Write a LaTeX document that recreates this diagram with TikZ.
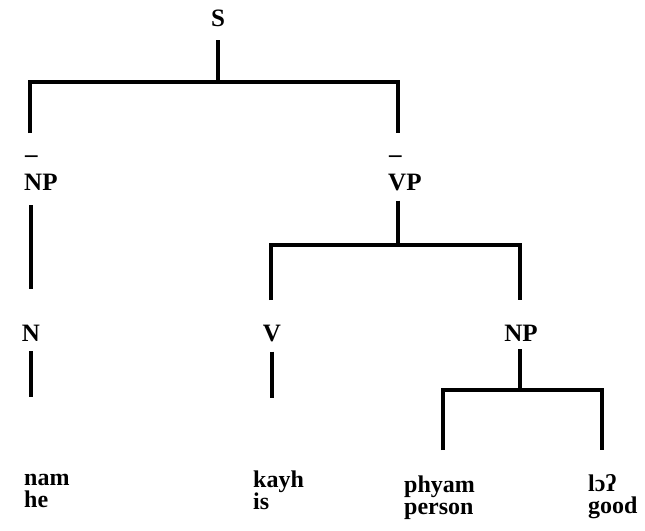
\documentclass[tikz,border=0pt]{standalone}
\usepackage{fontspec}
\setmainfont{Liberation Serif}
\usepackage{tikz}
\usetikzlibrary{positioning,calc}

% bar over the first letter of a phrase label
\newcommand{\xbar}{\rlap{\raisebox{1.1em}{\kern1pt–}}}

\begin{document}
\begin{tikzpicture}[x=1pt,y=-1pt,
    lab/.style={inner sep=0pt,anchor=base,font=\fontsize{25}{28}\selectfont\bfseries},
    word/.style={inner sep=0pt,anchor=base west,align=left,font=\fontsize{24}{22}\selectfont\bfseries},
    branch/.style={line width=3.2pt}]
\useasboundingbox (0,0) rectangle (645,530);

% tree labels
\node[lab] (s) at (218,27) {S};
\node[lab,anchor=base west] (np1) at (24,190) {\xbar NP};
\node[lab,anchor=base west] (vp1) at (388,190) {\xbar VP};
\node[lab] (n) at (31,341) {N};
\node[lab] (v) at (272,341) {V};
\node[lab] (np2) at (521,341) {NP};

% leaves
\node[word] (w1) at (24,507) {nam\\he};
\node[word] (w2) at (253,509) {kayh\\is};
\node[word] (w3) at (404,514) {phyam\\person};
\node[word] (w4) at (588,513) {lɔʔ\\good};

% branch points and free ends
\coordinate (s-j) at (218,82);
\coordinate (vp-j) at (398,245);
\coordinate (np-j) at (520,390);
\coordinate (np1-in) at (30,133);
\coordinate (vp1-in) at (398,133);
\coordinate (v-in) at (271,300);
\coordinate (np2-in) at (520,300);
\coordinate (n-out) at (31,397);
\coordinate (v-out) at (272,398);
\coordinate (w3-in) at (443,450);
\coordinate (w4-in) at (602,450);

% branches
\draw[branch,shorten <=13pt] (s) -- (s-j);
\draw[branch] (np1-in) |- (s-j) -| (vp1-in);
\draw[branch,shorten <=10pt] (vp-j |- vp1.south) -- (vp-j);
\draw[branch] (v-in) |- (vp-j) -| (np2-in);
\draw[branch,shorten <=15pt,shorten >=35pt] (n |- np1.south) -- (n.north);
\draw[branch,shorten <=10pt] (n) -- (n-out);
\draw[branch,shorten <=10pt] (v) -- (v-out);
\draw[branch,shorten <=8pt] (np-j |- np2.south) -- (np-j);
\draw[branch] (w3-in) |- (np-j) -| (w4-in);
\end{tikzpicture}
\end{document}
